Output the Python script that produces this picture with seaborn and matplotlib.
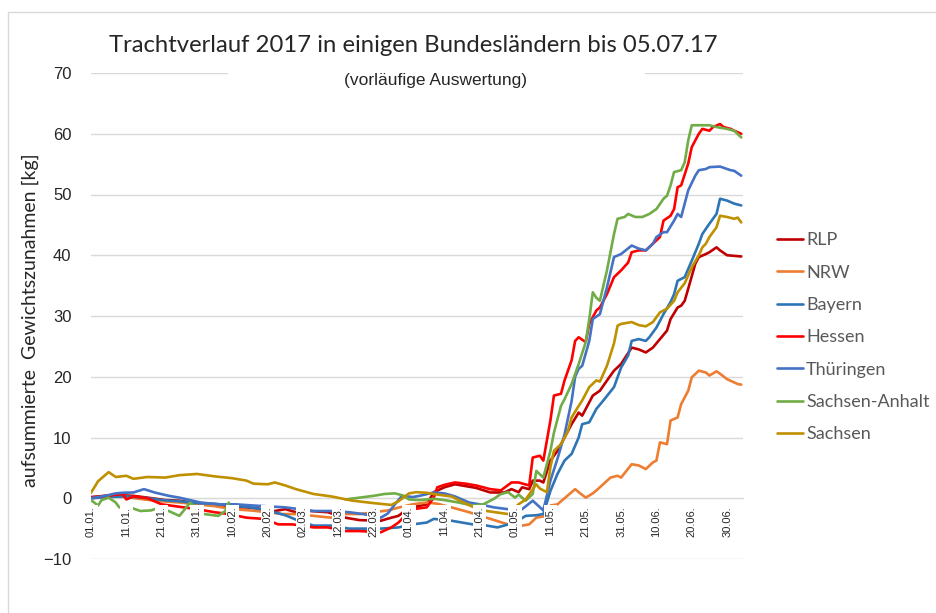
import numpy as np
import pandas as pd
import matplotlib
matplotlib.use("Agg")
import matplotlib.pyplot as plt
import seaborn as sns
from matplotlib.patches import Rectangle

START = pd.Timestamp("2017-01-01")
LAENDER = ["RLP", "NRW", "Bayern", "Hessen", "Thüringen", "Sachsen-Anhalt", "Sachsen"]
FARBEN = ["#C00000", "#ED7D31", "#2E75B6", "#FF0000", "#4472C4", "#70AD47", "#BF9000"]

# Tage seit 01.01.2017, aufsummierte Gewichtszunahme [kg]
rlp_tag = [0, 4, 8, 12, 16, 21, 25, 30, 35, 39, 44, 49, 52, 55, 58, 62, 67, 72, 76, 82,
           85, 87, 89, 91, 95, 97, 100, 103, 105, 109, 113, 117, 119, 121, 122, 124, 125, 127, 128, 130,
           132, 134, 136, 138, 139, 140, 142, 144, 147, 148, 150, 153, 155, 157, 159, 161, 163, 164, 166, 167,
           168, 169, 171, 172, 174, 175, 177, 178, 180, 182, 184]
rlp_kg = [0.2, 0.4, 0.5, 0.4, 0.1, -0.3, -0.4, -0.85, -1.2, -1.5, -1.5, -1.8, -2.1, -1.8, -2.3, -2.1, -2.3, -3.2, -3.6, -3.7,
          -3.2, -2.9, -2.0, -1.5, -1.0, 1.0, 1.8, 2.3, 2.1, 1.7, 0.95, 0.95, 1.5, 1.0, 1.8, 1.5, 2.9, 2.9, 2.6, 6.2,
          7.8, 10.0, 12.2, 14.1, 13.6, 14.7, 16.9, 17.7, 20.2, 21.0, 22.1, 24.8, 24.5, 24.0, 24.8, 26.2, 27.6, 29.5, 31.4, 31.7,
          32.5, 34.5, 38.6, 39.7, 40.2, 40.5, 41.3, 40.8, 40.0, 39.9, 39.8]

nrw_tag = [0, 5, 10, 15, 20, 25, 30, 35, 40, 45, 50, 54, 58, 63, 68, 72, 76, 80, 84, 88,
           91, 95, 98, 102, 107, 113, 118, 122, 124, 126, 128, 130, 132, 135, 137, 138, 140, 142, 144, 147,
           149, 150, 153, 155, 157, 159, 160, 161, 163, 164, 166, 167, 169, 170, 172, 174, 175, 177, 178, 180,
           183, 184]
nrw_kg = [0.0, 0.3, 0.2, -0.2, -0.5, -0.7, -1.0, -1.3, -1.8, -2.0, -2.3, -2.6, -2.6, -2.9, -3.2, -2.6, -2.6, -2.3, -2.0, -1.4,
          -1.0, -0.7, -0.9, -1.5, -2.3, -3.4, -4.3, -4.5, -4.3, -3.2, -3.0, -1.2, -1.0, 0.5, 1.5, 1.0, 0.1, 0.8, 1.8, 3.4,
          3.7, 3.4, 5.6, 5.4, 4.8, 5.9, 6.2, 9.2, 8.9, 12.8, 13.3, 15.5, 17.7, 19.9, 21.0, 20.7, 20.2, 20.9, 20.5, 19.6,
          18.8, 18.7]

bayern_tag = [0, 5, 10, 15, 20, 25, 30, 35, 40, 45, 50, 55, 60, 63, 68, 73, 77, 82, 87, 91,
              95, 97, 102, 105, 108, 112, 115, 120, 123, 126, 128, 130, 132, 134, 136, 138, 139, 141, 143, 145,
              148, 150, 152, 153, 155, 157, 158, 160, 162, 164, 165, 166, 168, 170, 172, 173, 175, 177, 178, 180,
              182, 184]
bayern_kg = [0.0, 0.2, 0.3, 0.1, -0.3, -0.5, -0.8, -0.9, -1.2, -1.5, -2.0, -2.8, -4.0, -4.5, -4.5, -5.0, -5.0, -5.0, -4.8, -4.3,
             -4.0, -3.4, -3.7, -4.0, -4.3, -4.5, -4.8, -4.0, -2.9, -2.8, -2.6, 1.2, 4.0, 6.2, 7.3, 10.0, 12.2, 12.5, 14.7, 16.1,
             18.3, 21.5, 23.5, 25.9, 26.2, 25.9, 26.5, 28.1, 30.3, 32.3, 33.6, 35.8, 36.4, 39.1, 41.9, 43.5, 45.2, 46.8, 49.3, 49.0,
             48.5, 48.2]

hessen_tag = [0, 3, 6, 9, 10, 12, 16, 20, 25, 30, 35, 39, 44, 49, 53, 57, 63, 67, 72, 76,
              82, 85, 87, 89, 91, 95, 97, 98, 100, 103, 106, 109, 113, 116, 119, 121, 124, 125, 127, 128,
              130, 131, 133, 134, 136, 137, 138, 140, 141, 143, 144, 146, 148, 150, 152, 153, 155, 157, 159, 161,
              162, 164, 165, 166, 167, 169, 170, 172, 173, 175, 176, 178, 179, 181, 182, 184]
hessen_kg = [0.1, 0.3, 0.5, 0.7, -0.2, 0.3, 0.0, -1.0, -1.4, -1.8, -2.3, -2.6, -3.2, -3.4, -4.3, -4.3, -4.8, -4.8, -5.4, -5.4,
             -5.6, -4.8, -4.0, -2.8, -1.8, -1.5, 0.1, 1.8, 2.2, 2.6, 2.4, 2.1, 1.5, 1.3, 2.6, 2.6, 2.1, 6.7, 7.0, 6.2,
             12.8, 16.9, 17.2, 19.4, 22.7, 25.9, 26.5, 25.7, 28.7, 30.9, 31.4, 33.6, 36.4, 37.5, 38.8, 40.5, 40.8, 40.8, 41.9, 43.0,
             45.7, 46.5, 47.6, 51.2, 51.5, 55.1, 57.8, 60.0, 60.8, 60.5, 61.1, 61.6, 61.1, 60.8, 60.5, 60.0]

thueringen_tag = [0, 4, 7, 9, 12, 15, 18, 22, 25, 28, 31, 36, 41, 46, 52, 55, 59, 63, 68, 73,
                  77, 82, 84, 86, 88, 91, 93, 97, 100, 103, 107, 110, 114, 118, 122, 125, 128, 130, 132, 134,
                  136, 137, 138, 139, 141, 142, 144, 146, 148, 150, 153, 155, 157, 159, 160, 162, 163, 165, 166, 167,
                  169, 171, 172, 174, 175, 178, 181, 182, 184]
thueringen_kg = [0.0, 0.4, 0.8, 0.9, 0.95, 1.5, 0.95, 0.4, 0.1, -0.3, -0.7, -1.0, -1.0, -1.2, -1.4, -1.5, -1.8, -2.1, -2.1, -2.3,
                 -2.6, -3.2, -2.5, -1.0, 0.4, 0.2, 0.4, 0.95, 0.8, 0.3, -0.7, -1.0, -1.5, -1.8, -1.8, -0.4, -2.0, 2.9, 6.5, 10.5,
                 16.0, 20.0, 21.3, 21.8, 25.9, 29.5, 30.3, 34.7, 39.7, 40.2, 41.6, 41.1, 40.8, 41.9, 43.0, 43.8, 43.8, 45.7, 46.8, 46.3,
                 50.7, 53.1, 54.0, 54.2, 54.5, 54.6, 54.0, 53.9, 53.1]

sanhalt_tag = [0, 2, 3, 5, 7, 8, 11, 14, 17, 18, 22, 25, 27, 28, 32, 36, 38, 39, 55, 72,
               76, 80, 83, 86, 88, 90, 93, 97, 100, 104, 108, 111, 114, 116, 118, 120, 121, 123, 125, 126,
               128, 130, 131, 133, 134, 136, 138, 140, 141, 142, 143, 144, 146, 148, 149, 151, 152, 154, 156, 158,
               160, 162, 163, 164, 165, 167, 168, 169, 170, 172, 175, 177, 180, 182, 184]
sanhalt_kg = [-0.3, -1.2, -0.3, 0.1, -0.7, -1.5, -1.5, -2.1, -2.0, -1.8, -2.1, -2.9, -1.5, -0.7, -2.6, -2.9, -2.1, -0.7, np.nan, -0.2,
              0.1, 0.4, 0.7, 0.8, 0.5, -0.2, -0.3, -0.1, -0.3, -0.7, -1.2, -1.0, -0.1, 0.7, 1.0, 0.1, 0.6, -0.4, 0.7, 4.5,
              3.4, 7.8, 10.8, 15.2, 16.3, 18.8, 22.1, 25.7, 29.5, 33.9, 33.0, 32.5, 37.5, 43.5, 46.0, 46.3, 46.8, 46.3, 46.3, 46.8,
              47.6, 49.3, 49.8, 51.5, 53.7, 54.0, 55.3, 58.9, 61.4, 61.4, 61.4, 61.1, 60.8, 60.5, 59.4]

sachsen_tag = [0, 2, 5, 7, 10, 12, 16, 21, 25, 30, 35, 40, 44, 46, 50, 52, 55, 58, 63, 68,
               74, 80, 85, 87, 90, 92, 95, 98, 102, 104, 108, 112, 118, 121, 123, 126, 127, 129, 130, 131,
               133, 135, 136, 138, 139, 141, 143, 144, 146, 148, 149, 150, 153, 155, 157, 159, 161, 163, 165, 166,
               168, 170, 172, 173, 174, 175, 177, 178, 180, 182, 183, 184]
sachsen_kg = [0.9, 2.8, 4.3, 3.5, 3.7, 3.2, 3.5, 3.4, 3.8, 4.0, 3.6, 3.3, 2.9, 2.4, 2.3, 2.6, 2.1, 1.5, 0.7, 0.3,
              -0.4, -0.8, -1.1, -0.5, 0.8, 1.0, 0.9, 0.6, 0.3, -0.3, -1.4, -2.1, -2.6, -1.0, -0.2, 2.3, 1.6, 1.0, 5.1, 7.8,
              8.9, 11.1, 13.3, 15.2, 16.1, 18.3, 19.4, 19.2, 21.8, 25.5, 28.4, 28.7, 29.0, 28.5, 28.3, 29.0, 30.6, 31.2, 32.5, 33.9,
              35.4, 38.0, 40.0, 41.3, 41.9, 43.0, 44.6, 46.5, 46.3, 46.0, 46.2, 45.4]

REIHEN = [
    ("RLP", rlp_tag, rlp_kg),
    ("NRW", nrw_tag, nrw_kg),
    ("Bayern", bayern_tag, bayern_kg),
    ("Hessen", hessen_tag, hessen_kg),
    ("Thüringen", thueringen_tag, thueringen_kg),
    ("Sachsen-Anhalt", sanhalt_tag, sanhalt_kg),
    ("Sachsen", sachsen_tag, sachsen_kg),
]


def segmente(land, tage, kg):
    # Lücken (NaN) trennen die Linie in einzelne Stücke
    d = pd.DataFrame({"tag": tage, "kg": kg})
    d["seg"] = d["kg"].isna().cumsum()
    d = d.dropna()
    d["land"] = land
    d["seg"] = land + "_" + d["seg"].astype(str)
    return d


df = pd.concat([segmente(*r) for r in REIHEN], ignore_index=True)

sns.set_style("white")
plt.rcParams["font.family"] = ["Liberation Sans", "DejaVu Sans"]

fig = plt.figure(figsize=(9.36, 6.13), dpi=100)
ax = fig.add_axes([91 / 936, 1 - 559 / 613, (743 - 91) / 936, (559 - 73) / 613])

sns.lineplot(data=df, x="tag", y="kg", hue="land", units="seg", estimator=None,
             hue_order=LAENDER, palette=dict(zip(LAENDER, FARBEN)), lw=1.9,
             sort=False, ax=ax)

ax.set_xlim(0, 184.5)
ax.set_ylim(-10, 70)
ax.set_yticks(range(-10, 71, 10))
ax.yaxis.grid(True, color="#D9D9D9", lw=1)
ax.set_axisbelow(True)
for s in ["top", "right", "left"]:
    ax.spines[s].set_visible(False)
ax.spines["bottom"].set_position(("data", 0))
ax.spines["bottom"].set_color("#D9D9D9")
ax.spines["bottom"].set_zorder(1)

tick_tage = np.arange(0, 181, 10)
ax.set_xticks(tick_tage)
ax.set_xticklabels([(START + pd.Timedelta(days=int(t))).strftime("%d.%m.") for t in tick_tage],
                   rotation=90, fontsize=8)
ax.tick_params(axis="x", length=4, color="#BFBFBF", pad=2)
ax.tick_params(axis="y", length=0, labelsize=12, pad=14)
for lab in ax.get_xticklabels():
    lab.set_bbox(dict(facecolor="white", edgecolor="none", pad=1.2))
ax.xaxis.set_zorder(5)
ax.set_xlabel("")
ax.set_ylabel("")

handles, labels = ax.get_legend_handles_labels()
ax.legend(handles, labels, loc="upper left", bbox_to_anchor=(770 / 936, 1 - 225 / 613),
          bbox_transform=fig.transFigure, frameon=False, borderaxespad=0,
          prop={"family": "Lato", "size": 13}, labelcolor="#595959",
          handlelength=1.4, handletextpad=0.2, labelspacing=0.905)

fig.text(413 / 936, 1 - 45 / 613, "Trachtverlauf 2017 in einigen Bundesländern bis 05.07.17",
         ha="center", va="center", fontsize=17.2, family="Lato")
fig.add_artist(Rectangle((228 / 936, 1 - 86 / 613), (645 - 228) / 936, 14 / 613,
                         facecolor="white", edgecolor="none", transform=fig.transFigure, zorder=1))
fig.text(435 / 936, 1 - 80 / 613, "(vorläufige Auswertung)", ha="center", va="center",
         fontsize=12.5, zorder=2)
fig.text(30 / 936, 1 - 320 / 613, "aufsummierte  Gewichtszunahmen [kg]", rotation=90,
         ha="center", va="center", fontsize=14, family="Lato")
fig.add_artist(Rectangle((8 / 936, -0.05), 1.0, 1 - 12 / 613 + 0.05, fill=False,
                         edgecolor="#D9D9D9", lw=1, transform=fig.transFigure))

fig.savefig("out.png", dpi=100)
